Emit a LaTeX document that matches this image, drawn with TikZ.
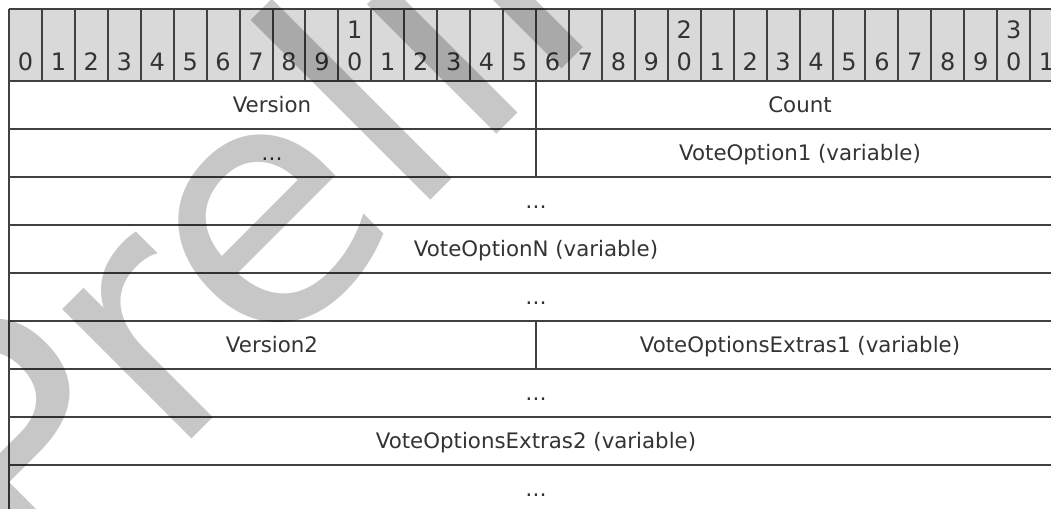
\documentclass[tikz,border=0pt]{standalone}
\usepackage{fontspec}
\setmainfont{DejaVu Sans}
\definecolor{hdrgray}{HTML}{D9D9D9}
\definecolor{linegray}{HTML}{404040}
\definecolor{txtgray}{HTML}{333333}

\begin{document}
\begin{tikzpicture} [x=0.75pt, y=-0.75pt,
  rule/.style={linegray, line width=1.5pt},
  edge/.style={linegray, line width=2.2pt},
  bitlbl/.style={txtgray, font=\fontsize{18}{18}\selectfont, inner sep=0pt},
  field/.style={txtgray, font=\fontsize{16}{16}\selectfont, inner sep=0pt, anchor=base}]
\useasboundingbox (0,0) rectangle (1051,508);
\clip (0,0) rectangle (1051,508);
\def\w{32.94}
% header with bit numbers
\fill[hdrgray] (9,9) rectangle (1063,81);
\foreach \i in {0,...,32} {
 \draw[rule] (9+\i*\w,9) -- (9+\i*\w,81);
}
\foreach \i [evaluate=\i as \d using {int(mod(\i,10))}] in {0,...,31} {
 \node[bitlbl] (b\i) at (9+\i*\w+\w/2,62) {\d};
}
\foreach \t in {1,2,3} {
 \node[bitlbl] (t\t) at (9+\t*10*\w+\w/2,30) {\t};
}
% rows
\foreach \r in {0,...,9} {
 \draw[rule] (9,81+\r*48) -- (1063,81+\r*48);
}
\draw[edge] (9,9) -- (1063,9);
\draw[edge] (9,9) -- (9,513);
\draw[rule] (536,81) -- (536,177);
\draw[rule] (536,321) -- (536,369);
% fields
\node[field] (version)  at (272,112) {Version};
\node[field] (count)    at (800,112) {Count};
\node[field] (dotsa)    at (272,160) {…};
\node[field] (opt1)     at (800,160) {VoteOption1 (variable)};
\node[field] (dotsb)    at (536,208) {…};
\node[field] (optn)     at (536,256) {VoteOptionN (variable)};
\node[field] (dotsc)    at (536,304) {…};
\node[field] (version2) at (272,352) {Version2};
\node[field] (extras1)  at (800,352) {VoteOptionsExtras1 (variable)};
\node[field] (dotsd)    at (536,400) {…};
\node[field] (extras2)  at (536,448) {VoteOptionsExtras2 (variable)};
\node[field] (dotse)    at (536,496) {…};
% watermark
\node[rotate=45, anchor=base west, inner sep=0pt, text=black, text opacity=0.22,
  font=\fontsize{251}{251}\selectfont] (mark) at (32,599) {Preliminary};
\end{tikzpicture}
\end{document}
